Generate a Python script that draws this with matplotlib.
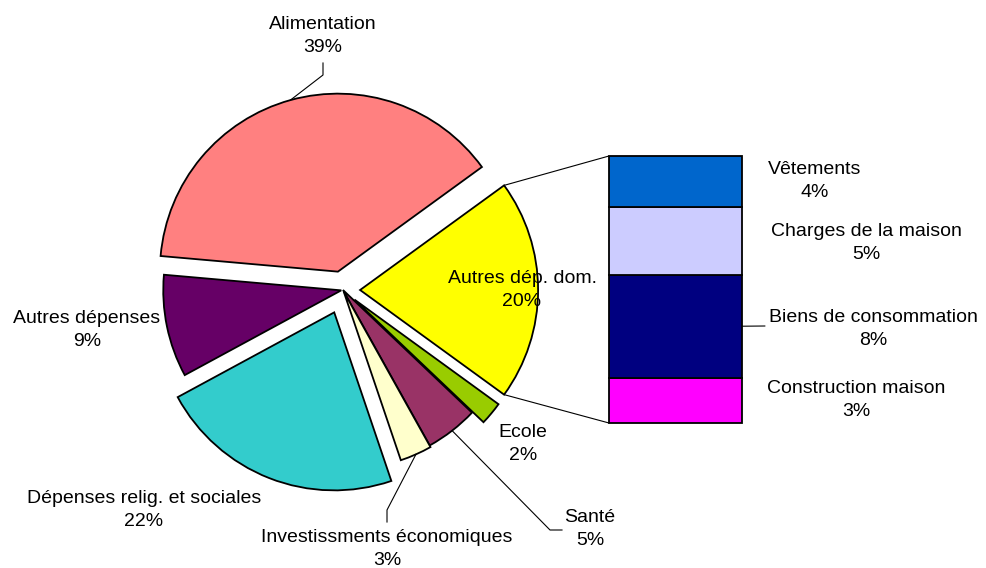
import numpy as np
import matplotlib.pyplot as plt
from matplotlib.patches import ConnectionPatch

plt.rcParams['font.family'] = ['Liberation Sans', 'DejaVu Sans']

# pie slices, clockwise starting with the slice that is split into the bar
pie_labels = ['Autres dép. dom.', 'Ecole', 'Santé', 'Investissments économiques',
              'Dépenses relig. et sociales', 'Autres dépenses', 'Alimentation']
pie_values = [20.0, 2.1, 4.8, 2.9, 22.3, 9.3, 38.6]
pie_colors = ['#FFFF00', '#99CC00', '#993366', '#FFFFCC', '#33CCCC', '#660066', '#FF8080']
explode = [0.096, 0.084, 0.0, 0.01, 0.135, 0.01, 0.107]

# bar of "Autres dép. dom.", bottom to top
bar_labels = ['Construction maison', 'Biens de consommation', 'Charges de la maison', 'Vêtements']
bar_values = [3.4, 7.7, 5.1, 3.8]
bar_colors = ['#FF00FF', '#000080', '#CCCCFF', '#0066CC']

W, H = 987, 568
FS = 14
LS = 1.45

fig = plt.figure(figsize=(W / 100, H / 100), dpi=100)
ax = fig.add_axes([0, 0, 1, 1])

cx, cy, R = 343, H - 290, 178
start = 180 * pie_values[0] / sum(pie_values)
# explode is in data units here, so scale by the radius
wedges, _ = ax.pie(pie_values, colors=pie_colors, explode=[e * R for e in explode],
                   startangle=start, counterclock=False, center=(cx, cy), radius=R,
                   wedgeprops=dict(edgecolor='black', linewidth=1.3))
ax.set_xlim(0, W)
ax.set_ylim(0, H)
ax.set_aspect('equal')
ax.axis('off')


def arc_point(w, theta):
    t = np.deg2rad(theta)
    return (w.center[0] + w.r * np.cos(t), w.center[1] + w.r * np.sin(t))


# label centres (pixels from top-left)
pie_pos = {
    'Autres dép. dom.': (522, 290),
    'Ecole': (523, 444),
    'Santé': (590, 529),
    'Investissments économiques': (387, 549),
    'Dépenses relig. et sociales': (144, 510),
    'Autres dépenses': (87, 330),
    'Alimentation': (323, 36),
}
# leader lines: elbow and end points
leaders = {
    'Alimentation': [(323, 75), (323, 63)],
    'Investissments économiques': [(387, 510), (387, 522)],
    'Santé': [(550, 530), (562, 530)],
}

for w, lab, v in zip(wedges, pie_labels, pie_values):
    x, y = pie_pos[lab]
    ax.text(x, H - y, f'{lab}\n{v:.0f}%', ha='center', va='center',
            multialignment='center', fontsize=FS, linespacing=LS, zorder=5)
    if lab in leaders:
        p0 = arc_point(w, (w.theta1 + w.theta2) / 2)
        pts = [p0] + [(px, H - py) for px, py in leaders[lab]]
        xs, ys = zip(*pts)
        ax.plot(xs, ys, color='black', lw=0.8, zorder=4)

# bar of pie
bax = fig.add_axes([609 / W, (H - 423) / H, 133 / W, 267 / H])
total = sum(bar_values)
bottoms = np.concatenate([[0], np.cumsum(bar_values)[:-1]])
bax.bar(0, bar_values, width=1, bottom=bottoms, color=bar_colors,
        edgecolor='black', linewidth=1.3, clip_on=False)
bax.set_xlim(-0.5, 0.5)
bax.set_ylim(0, total)
bax.axis('off')

# lines from the split slice to the bar
yw = wedges[0]
for theta, yb in [(yw.theta2, total), (yw.theta1, 0)]:
    con = ConnectionPatch(xyA=arc_point(yw, theta), coordsA=ax.transData,
                          xyB=(-0.5, yb), coordsB=bax.transData,
                          color='black', lw=0.8)
    fig.add_artist(con)

bar_pos = {
    'Vêtements': (815, 181),
    'Charges de la maison': (866, 243),
    'Biens de consommation': (873, 329),
    'Construction maison': (856, 400),
}
for lab, v, b in zip(bar_labels, bar_values, bottoms):
    x, y = bar_pos[lab]
    ax.text(x, H - y, f'{lab}\n{v:.0f}%', ha='center', va='center',
            multialignment='center', fontsize=FS, linespacing=LS)
    if lab == 'Biens de consommation':
        con = ConnectionPatch(xyA=(0.5, b + v / 2), coordsA=bax.transData,
                              xyB=(765, H - 326), coordsB=ax.transData,
                              color='black', lw=0.8)
        fig.add_artist(con)

fig.savefig('out.png', dpi=100)
